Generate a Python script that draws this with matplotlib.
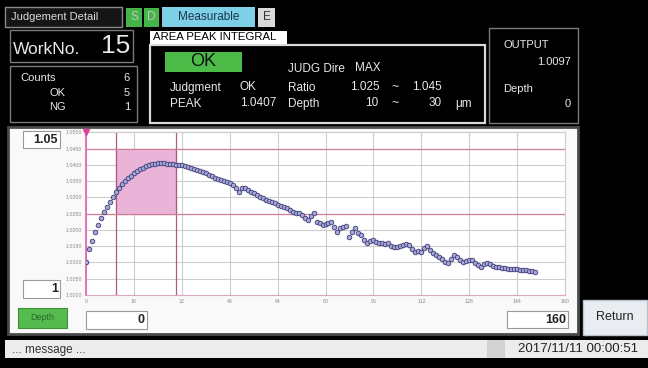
import numpy as np
import matplotlib
matplotlib.use('Agg')
import matplotlib.pyplot as plt
from matplotlib.patches import Rectangle

plt.rcParams['font.family'] = ['Liberation Sans', 'DejaVu Sans']

# ---- data ----
work_no = '15'
counts = ['6', '5', '1']
peak_value = '1.0407'
output_value = '1.0097'
ratio_range = (1.025, 1.045)
depth_range = (10, 30)

x_ticks = [0, 16, 32, 48, 64, 80, 96, 112, 128, 144, 160]
y_ticks = [1.0000, 1.0050, 1.0100, 1.0150, 1.0200, 1.0250,
           1.0300, 1.0350, 1.0400, 1.0450, 1.0500]

# depth sampled every 1 um
depth = list(range(0, 151))
value = [1.0102, 1.0140, 1.0165, 1.0195, 1.0215, 1.0236, 1.0254, 1.0270,
         1.0285, 1.0302, 1.0318, 1.0330, 1.0342, 1.0351, 1.0360, 1.0367,
         1.0374, 1.0380, 1.0386, 1.0391, 1.0395, 1.0399, 1.0402, 1.0404,
         1.0407, 1.0406, 1.0405, 1.0404, 1.0403, 1.0402, 1.0401, 1.0400,
         1.0399, 1.0396, 1.0393, 1.0390, 1.0387, 1.0384, 1.0380, 1.0377,
         1.0374, 1.0370, 1.0366, 1.0361, 1.0357, 1.0354, 1.0350, 1.0347,
         1.0343, 1.0338, 1.0330, 1.0318, 1.0328, 1.0330, 1.0322, 1.0316,
         1.0312, 1.0307, 1.0302, 1.0297, 1.0292, 1.0289, 1.0285, 1.0282,
         1.0278, 1.0272, 1.0270, 1.0266, 1.0260, 1.0256, 1.0251, 1.0253,
         1.0245, 1.0236, 1.0232, 1.0244, 1.0251, 1.0225, 1.0220, 1.0215,
         1.0218, 1.0222, 1.0225, 1.0210, 1.0195, 1.0205, 1.0210, 1.0212,
         1.0179, 1.0195, 1.0205, 1.0190, 1.0184, 1.0168, 1.0159, 1.0165,
         1.0169, 1.0163, 1.0159, 1.0160, 1.0158, 1.0159, 1.0152, 1.0149,
         1.0147, 1.0150, 1.0155, 1.0157, 1.0154, 1.0140, 1.0133, 1.0135,
         1.0133, 1.0145, 1.0151, 1.0138, 1.0128, 1.0122, 1.0118, 1.0110,
         1.0100, 1.0097, 1.0112, 1.0123, 1.0118, 1.0108, 1.0102, 1.0105,
         1.0109, 1.0108, 1.0098, 1.0091, 1.0087, 1.0095, 1.0099, 1.0094,
         1.0089, 1.0087, 1.0086, 1.0084, 1.0082, 1.0081, 1.0080, 1.0079,
         1.0079, 1.0078, 1.0077, 1.0077, 1.0075, 1.0073, 1.0072]

W, H = 648, 368
fig = plt.figure(figsize=(W / 100, H / 100), dpi=100)
fig.patch.set_facecolor('black')

# background axes in pixel coordinates (y down)
bg = fig.add_axes([0, 0, 1, 1])
bg.set_xlim(0, W)
bg.set_ylim(H, 0)
bg.axis('off')
bg.set_facecolor('black')

FG = '#e8e8e8'


def box(x0, y0, x1, y1, fc, ec='none', lw=1.0, z=1):
    bg.add_patch(Rectangle((x0, y0), x1 - x0, y1 - y0, facecolor=fc,
                           edgecolor=ec, linewidth=lw, zorder=z))


def txt(x, y, s, size, color=FG, ha='left', weight='normal'):
    bg.text(x, y, s, fontsize=size, color=color, ha=ha, va='center',
            fontweight=weight, zorder=5)


# header tabs
box(5, 7, 122, 27, '#151515', '#8a8a8a', 1)
txt(11, 17.5, 'Judgement Detail', 8, '#dcdcdc')
box(126, 8, 142, 27, '#45b449')
txt(134, 17.5, 'S', 8.5, '#c4c4c4', ha='center')
box(144, 8, 159, 27, '#45b449')
txt(151.5, 17.5, 'D', 8.5, '#c4c4c4', ha='center')
box(162, 7, 255, 27, '#7dd0e6')
txt(208.5, 17.5, 'Measurable', 8.5, '#1e3550', ha='center')
box(258, 8, 275, 27, '#d9d9d9')
txt(266.5, 17.5, 'E', 8.5, '#333333', ha='center')

# work number / counts
box(10, 30, 133, 62, 'black', '#7a7a7a', 1)
txt(13, 49, 'WorkNo.', 12.5)
txt(130, 46, work_no, 19, ha='right')
box(10, 66, 137, 122, 'black', '#7a7a7a', 1)
txt(20, 78, 'Counts', 8)
txt(57, 93, 'OK', 8, ha='center')
txt(57, 107, 'NG', 8, ha='center')
for k, c in enumerate(counts):
    txt(130, [78, 93, 107][k], c, 8, ha='right')

# judgement box
box(150, 45, 485, 123, 'black', '#d8d8d8', 1.6)
box(150, 31, 287, 44, 'white', z=2)
txt(153, 37.5, 'AREA PEAK INTEGRAL', 8.2, 'black')
box(165, 52, 242, 72, '#4cbb48')
txt(203.5, 62, 'OK', 13, '#111111', ha='center')
txt(288, 69, 'JUDG Dire', 8.5)
txt(355, 68, 'MAX', 8.5)
txt(170, 88, 'Judgment', 8.5)
txt(240, 87, 'OK', 8.5)
txt(288, 88, 'Ratio', 8.5)
txt(380, 87, '%.3f' % ratio_range[0], 8.5, ha='right')
txt(395, 87, '~', 9, ha='center')
txt(442, 87, '%.3f' % ratio_range[1], 8.5, ha='right')
txt(170, 104, 'PEAK', 8.5)
txt(276, 103, peak_value, 8.5, ha='right')
txt(288, 104, 'Depth', 8.5)
txt(378, 103, str(depth_range[0]), 8.5, ha='right')
txt(395, 103, '~', 9, ha='center')
txt(442, 103, str(depth_range[1]), 8.5, ha='right')
txt(455, 104, 'μm', 8.5)

# output box
box(489, 28, 578, 123, 'black', '#7a7a7a', 1)
txt(503, 45, 'OUTPUT', 8)
txt(571, 62, output_value, 8, ha='right')
txt(503, 89, 'Depth', 8)
txt(571, 104, '0', 8, ha='right')

# chart panel
box(8, 127, 578, 334, '#f9f9f9', '#4a4a4a', 2)
box(23, 131, 60, 148, 'white', '#9a9a9a', 0.8, z=2)
txt(58, 140, '1.05', 9, '#222222', ha='right', weight='bold')
box(23, 280, 60, 298, 'white', '#9a9a9a', 0.8, z=2)
txt(58, 289, '1', 9, '#222222', ha='right', weight='bold')
box(18, 308, 67, 328, '#56bb4e', '#3f8f3a', 0.8, z=2)
txt(42.5, 318, 'Depth', 6.5, '#2b6b2b', ha='center')
box(86, 311, 147, 329, 'white', '#9a9a9a', 0.8, z=2)
txt(145, 320, '0', 9, '#222222', ha='right', weight='bold')
box(507, 311, 568, 328, 'white', '#9a9a9a', 0.8, z=2)
txt(566, 320, '160', 9, '#222222', ha='right', weight='bold')

# return button
box(583, 300, 647, 335, '#e9edf2', '#b8c4d0', 1)
txt(615, 317.5, 'Return', 9, '#222222', ha='center')

# status bar
box(5, 340, 648, 358, '#ececec')
box(487, 340, 505, 358, '#d2d2d2')
txt(12, 350, '... message ...', 8.5, '#333333')
txt(638, 349.5, '2017/11/11 00:00:51', 9.5, '#222222', ha='right')

# ---- the profile plot ----
x0, x1, y0, y1 = 86, 565, 132.3, 295
ax = fig.add_axes([x0 / W, 1 - y1 / H, (x1 - x0) / W, (y1 - y0) / H])
ax.set_facecolor('white')
ax.set_xlim(x_ticks[0], x_ticks[-1])
ax.set_ylim(y_ticks[0], y_ticks[-1])
ax.set_xticks(x_ticks)
ax.set_yticks(y_ticks)
ax.set_xticklabels([str(t) for t in x_ticks])
ax.set_yticklabels(['%.4f' % t for t in y_ticks])
ax.tick_params(labelsize=3.8, labelcolor='#8a8a8a', length=0, pad=3)
ax.grid(True, color='#cdcdcd', linewidth=0.8)
ax.set_axisbelow(True)
for s in ['top', 'right']:
    ax.spines[s].set_color('#cdcdcd')
ax.spines['left'].set_color('#e060b0')
ax.spines['left'].set_linewidth(1.2)
ax.spines['bottom'].set_color('#d8a8c4')

# judgement area
ax.fill_between(depth_range, ratio_range[0], ratio_range[1],
                color='#e9b4d8', zorder=1)
for dv in depth_range:
    ax.axvline(dv, color='#a85c84', linewidth=0.9, zorder=2)
for rv in ratio_range:
    ax.axhline(rv, color='#cf8098', linewidth=0.9, zorder=2)
ax.plot([0], [y_ticks[-1]], marker='v', color='#e0409a', markersize=5,
        clip_on=False, zorder=6)

ax.plot(depth, value, linestyle='none', marker='o', markersize=3.3,
        markerfacecolor='#a8a8d4', markeredgecolor='#3c3c7c',
        markeredgewidth=0.6, zorder=4)

fig.savefig('out.png', dpi=100, facecolor='black')
